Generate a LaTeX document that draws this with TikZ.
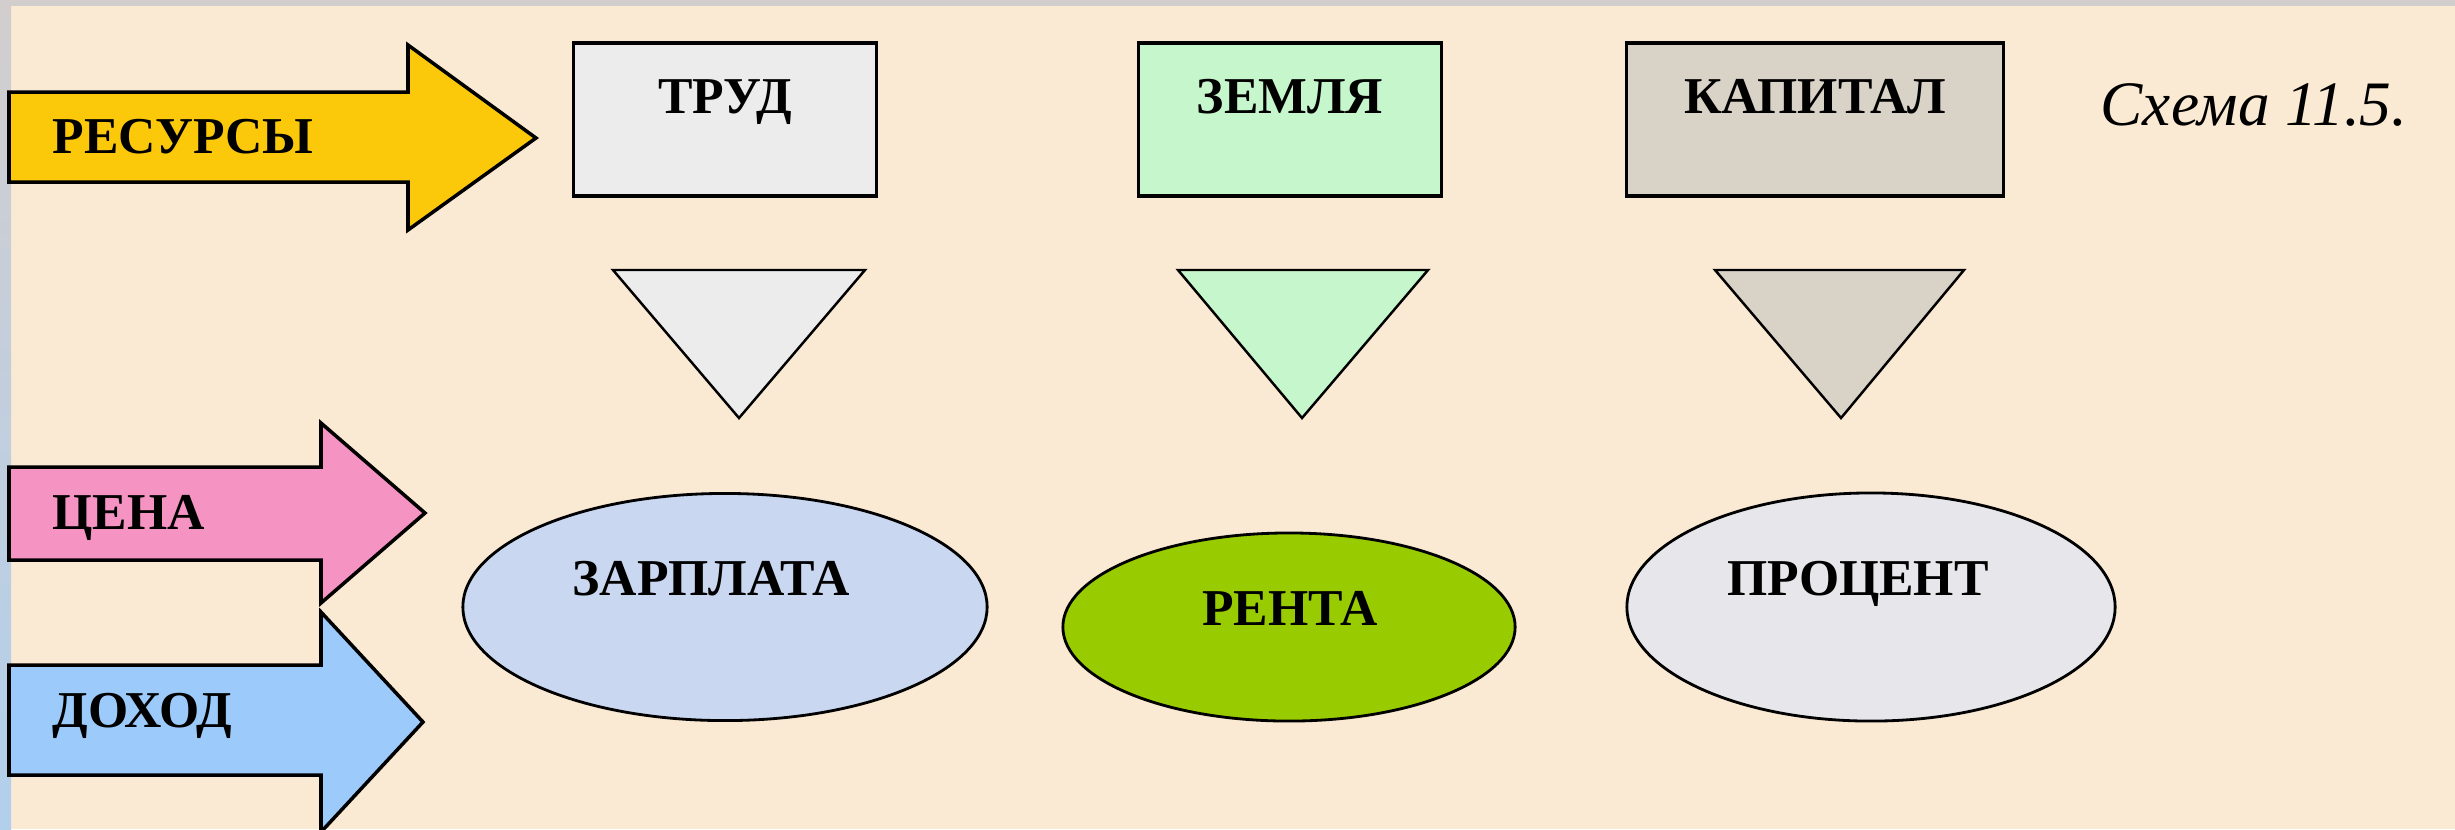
\documentclass[tikz,border=0pt]{standalone}
\usepackage{fontspec}
\setmainfont{Liberation Serif}
\usetikzlibrary{shapes.geometric}

\definecolor{bgcream}{HTML}{FAEAD3}
\definecolor{framegray}{HTML}{D2CECE}
\definecolor{frameblue}{HTML}{B2CFEC}
\definecolor{resgold}{HTML}{FBC90A}
\definecolor{cenapink}{HTML}{F593C3}
\definecolor{dohodblue}{HTML}{9CCBFB}
\definecolor{trudgray}{HTML}{ECECEC}
\definecolor{zemgreen}{HTML}{C6F7CC}
\definecolor{kapgray}{HTML}{D8D2C7}
\definecolor{zarpblue}{HTML}{CAD7F0}
\definecolor{rentgreen}{HTML}{99CC00}
\definecolor{procgray}{HTML}{E7E7EB}

\tikzset{
  lbl/.style={font=\fontsize{14.7}{16}\selectfont\bfseries, inner sep=0pt, anchor=base},
  resbox/.style={draw=black, line width=1pt, inner sep=0pt, minimum width=3.03cm,
    text height=0.70cm, text depth=0.83cm, anchor=base,
    font=\fontsize{14.7}{16}\selectfont\bfseries},
  tri/.style={draw=black, line width=0.7pt},
  oval/.style={ellipse, draw=black, line width=0.8pt, inner sep=0pt},
  blockarrow/.style={draw=black, line width=1pt}
}

\begin{document}
\begin{tikzpicture}[x=0.01cm, y=-0.01cm]
	\useasboundingbox (0,0) rectangle (2455,829);
	\clip (0,0) rectangle (2455,829);
	\fill[bgcream] (0,0) rectangle (2455,829);
	\fill[framegray] (0,0) rectangle (2455,6);
	\shade[top color=framegray, bottom color=frameblue] (0,0) rectangle (11,829);

	\filldraw[blockarrow, fill=resgold] (9,92) -- (408,92) -- (408,45) -- (536,138) -- (408,230) -- (408,182) -- (9,182) -- cycle;
	\filldraw[blockarrow, fill=cenapink] (9,467) -- (321,467) -- (321,423) -- (425,513) -- (321,603) -- (321,560) -- (9,560) -- cycle;
	\filldraw[blockarrow, fill=dohodblue] (9,665) -- (321,665) -- (321,612) -- (423,722) -- (321,832) -- (321,775) -- (9,775) -- cycle;
	\node[lbl, anchor=base west] (resursy) at (52,153) {РЕСУРСЫ};
	\node[lbl, anchor=base west] (cena) at (52,529) {ЦЕНА};
	\node[lbl, anchor=base west] (dohod) at (52,727) {ДОХОД};

	\node[resbox, fill=trudgray] (trud) at (725,113) {ТРУД};
	\node[resbox, fill=zemgreen] (zemlya) at (1290,113) {ЗЕМЛЯ};
	\node[resbox, fill=kapgray, minimum width=3.77cm] (kapital) at (1815,113) {КАПИТАЛ};
	\node[font=\fontsize{18}{20}\selectfont\itshape, inner sep=0pt, anchor=base west] (schema) at (2100,125) {Схема 11.5.};

	\filldraw[tri, fill=trudgray] (613,270) -- (865,270) -- (739,418) -- cycle;
	\filldraw[tri, fill=zemgreen] (1178,270) -- (1428,270) -- (1302,418) -- cycle;
	\filldraw[tri, fill=kapgray] (1715,270) -- (1964,270) -- (1841,418) -- cycle;

	\node[oval, fill=zarpblue, minimum width=5.24cm, minimum height=2.27cm] (zarplata) at (725,607) {};
	\node[oval, fill=rentgreen, minimum width=4.52cm, minimum height=1.88cm] (renta) at (1289,627) {};
	\node[oval, fill=procgray, minimum width=4.88cm, minimum height=2.28cm] (procent) at (1871,607) {};
	\node[lbl] (zarplatatxt) at (711,595) {ЗАРПЛАТА};
	\node[lbl] (rentatxt) at (1290,625) {РЕНТА};
	\node[lbl] (procenttxt) at (1858,595) {ПРОЦЕНТ};
\end{tikzpicture}
\end{document}
